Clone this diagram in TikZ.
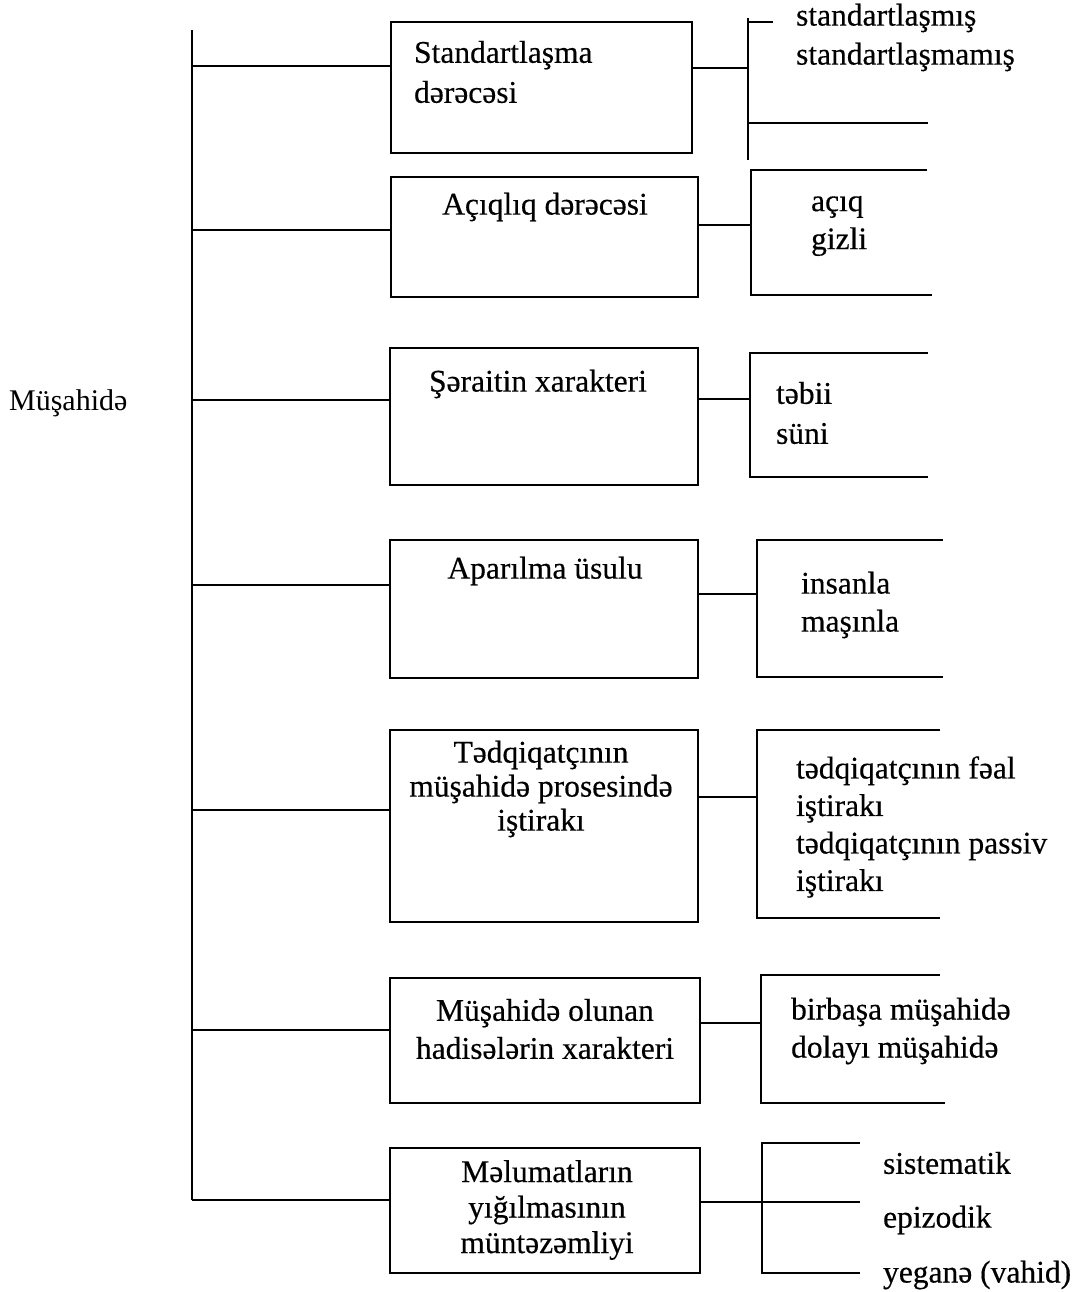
\documentclass[tikz,border=0pt]{standalone}
\usepackage{fontspec}
\setmainfont{Liberation Serif}
\newfontfamily\scanfont[FakeBold=0.4]{Liberation Serif}
\begin{document}
\begin{tikzpicture}[x=1pt,y=-1pt,
  line width=2.2pt,
  every node/.style={inner sep=0pt, font=\scanfont\fontsize{31.5}{38}\selectfont},
  catbox/.style={draw, minimum width=#1, outer sep=0pt},
  lbl/.style={anchor=west, align=left},
  ctr/.style={align=center},
  link/.style={line width=2pt}
]
\useasboundingbox (0,0) rectangle (1085,1292);

% root label and trunk
\node[lbl, font=\fontsize{30}{35}\selectfont] (root) at (8,403) {Müşahidə};
\coordinate (trunkTop) at (192,30);
\coordinate (trunkBot) at (192,1200);
\draw[line width=2.8pt] (trunkTop) -- (trunkBot);

% category boxes
\node[catbox=301pt, minimum height=131pt] (b1) at (541.5,87.5) {};
\node[catbox=307pt, minimum height=120pt] (b2) at (544.5,237) {};
\node[catbox=308pt, minimum height=137pt] (b3) at (544,416.5) {};
\node[catbox=308pt, minimum height=138pt] (b4) at (544,609) {};
\node[catbox=308pt, minimum height=192pt] (b5) at (544,826) {};
\node[catbox=310pt, minimum height=125pt] (b6) at (545,1040.5) {};
\node[catbox=310pt, minimum height=125pt] (b7) at (545,1210.5) {};

% box titles
\node[lbl, font=\scanfont\fontsize{31.5}{40}\selectfont] (t1) at (413,72) {Standartlaşma\\dərəcəsi};
\node[ctr] (t2) at (545,207) {Açıqlıq dərəcəsi};
\node[ctr] (t3) at (538,384) {Şəraitin xarakteri};
\node[ctr] (t4) at (545,571) {Aparılma üsulu};
\node[ctr, font=\scanfont\fontsize{31.5}{34}\selectfont] (t5) at (541,789) {Tədqiqatçının\\müşahidə prosesində\\iştirakı};
\node[ctr] (t6) at (545,1029) {Müşahidə olunan\\hadisələrin xarakteri};
\node[ctr, font=\scanfont\fontsize{31.5}{35.5}\selectfont] (t7) at (547,1210) {Məlumatların\\yığılmasının\\müntəzəmliyi};

% branches from the trunk
\foreach \i/\yy in {1/66,2/230,3/400,4/585,5/810,6/1030,7/1200}{
  \coordinate (j\i) at (192,\yy);
  \draw[link] (j\i) -- (j\i -| b\i.west);
}

% bracket junctions on the right
\coordinate (k1) at (748,68);
\coordinate (k2) at (751,225);
\coordinate (k3) at (750,399);
\coordinate (k4) at (757,594);
\coordinate (k5) at (757,797);
\coordinate (k6) at (761,1023);
\coordinate (k7) at (762,1202);
\foreach \i in {1,...,7}{
  \draw[link] (k\i -| b\i.east) -- (k\i);
}

% bracket 1
\draw (748,18) -- (748,160);
\draw (748,22) -- (773,22);
\draw (748,123) -- (928,123);
% bracket 2
\draw (927,170) -- (751,170) -- (751,295) -- (932,295);
% bracket 3
\draw (928,353) -- (750,353) -- (750,477) -- (928,477);
% bracket 4
\draw (943,540) -- (757,540) -- (757,677) -- (943,677);
% bracket 5
\draw (940,730) -- (757,730) -- (757,918) -- (940,918);
% bracket 6
\draw (940,975) -- (761,975) -- (761,1103) -- (945,1103);
% bracket 7
\draw (860,1143) -- (762,1143) -- (762,1273) -- (860,1273);
\draw (k7) -- (860,1202);

% sub-categories
\node[lbl] (s1a) at (795,18) {standartlaşmış};
\node[lbl] (s1b) at (795,57) {standartlaşmamış};
\node[lbl] (s2) at (810,226) {açıq\\gizli};
\node[lbl, font=\scanfont\fontsize{31.5}{40}\selectfont] (s3) at (775,413) {təbii\\süni};
\node[lbl] (s4) at (800,605) {insanla\\maşınla};
\node[lbl, font=\scanfont\fontsize{31.5}{37.5}\selectfont] (s5) at (795,827) {tədqiqatçının fəal\\iştirakı\\tədqiqatçının passiv\\iştirakı};
\node[lbl] (s6) at (790,1031) {birbaşa müşahidə\\dolayı müşahidə};
\node[lbl] (s7a) at (882,1163) {sistematik};
\node[lbl] (s7b) at (882,1220) {epizodik};
\node[lbl] (s7c) at (882,1275) {yeganə (vahid)};
\end{tikzpicture}
\end{document}
